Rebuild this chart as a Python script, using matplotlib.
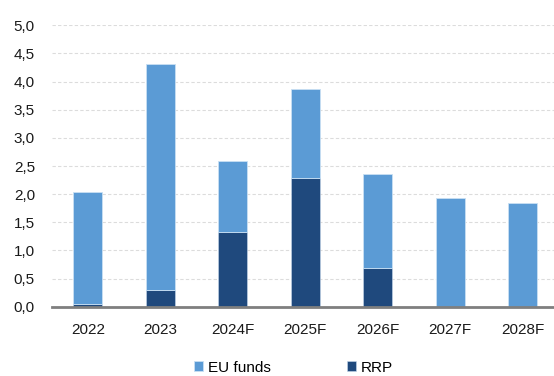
import numpy as np
import matplotlib
matplotlib.use('Agg')
import matplotlib.pyplot as plt
from matplotlib.ticker import FuncFormatter

years = ['2022', '2023', '2024F', '2025F', '2026F', '2027F', '2028F']
rrp = [0.04, 0.30, 1.32, 2.29, 0.69, 0.0, 0.0]
eu_funds = [2.00, 4.02, 1.27, 1.58, 1.67, 1.93, 1.84]

light = '#5b9bd5'
dark = '#1f497d'

plt.rcParams['font.family'] = ['Liberation Sans', 'DejaVu Sans']

fig = plt.figure(figsize=(5.54, 3.76), dpi=100)
ax = fig.add_axes([51.6/554, 69.3/376, 507.1/554, 281.4/376])

x = np.arange(len(years))
ax.bar(x, rrp, width=0.4, color=dark, edgecolor='#c9d9ec', linewidth=0.4, label='RRP', zorder=3)
ax.bar(x, eu_funds, width=0.4, bottom=rrp, color=light, edgecolor='#c9e0f3', linewidth=0.6,
       label='EU funds', zorder=3)

ax.set_xlim(-0.5, len(years) - 0.5)
ax.set_ylim(0, 5.0)
ax.set_yticks(np.arange(0, 5.01, 0.5))
ax.yaxis.set_major_formatter(FuncFormatter(lambda v, p: f'{v:.1f}'.replace('.', ',')))
ax.set_xticks(x)
ax.set_xticklabels(years)

for v in np.arange(0.5, 5.01, 0.5):
    ax.axhline(v, color='#dcdcdc', linewidth=0.8, linestyle=(0, (3, 2)), zorder=1)

for s in ['top', 'right', 'left']:
    ax.spines[s].set_visible(False)
ax.spines['bottom'].set_color('#7f7f7f')
ax.spines['bottom'].set_linewidth(2)
ax.spines['bottom'].set_zorder(4)
ax.tick_params(axis='both', length=0, labelsize=11, colors='#1a1a1a')
ax.tick_params(axis='x', pad=12)
ax.tick_params(axis='y', pad=12)

handles, labels = ax.get_legend_handles_labels()
leg = fig.legend(handles[::-1], labels[::-1], loc='center', bbox_to_anchor=(0.53, 0.022),
                 ncol=2, frameon=False, fontsize=11, handlelength=0.6, handleheight=0.6,
                 handletextpad=0.3, columnspacing=5.0)

fig.savefig('out.png', dpi=100)
